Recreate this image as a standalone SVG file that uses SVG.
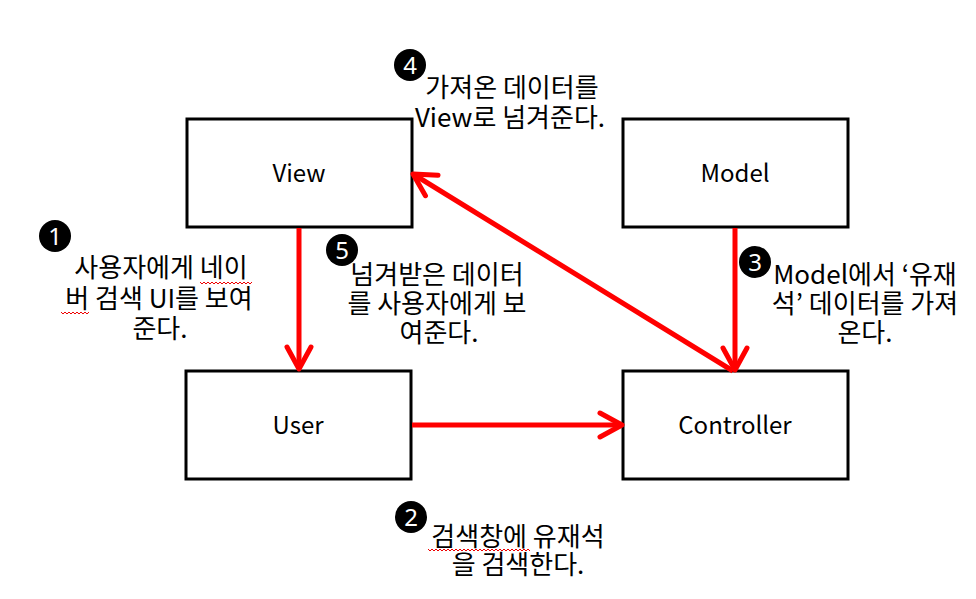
<svg xmlns="http://www.w3.org/2000/svg" width="976" height="599" viewBox="0 0 976 599">
<style>
.box{fill:#fff;stroke:#000;stroke-width:3}
.lbl{font-family:"Noto Sans CJK KR","Noto Sans",sans-serif;font-size:24px;fill:#000;text-anchor:middle}
.note{font-family:"Noto Sans CJK KR","Noto Sans",sans-serif;font-size:26px;fill:#000;text-anchor:middle}
.num{fill:#000}
.numt{font-family:"Noto Sans","DejaVu Sans",sans-serif;font-size:24px;fill:#fff;text-anchor:middle}
.conn{stroke:#f00;stroke-width:5;fill:none;marker-end:url(#ah)}
.sq{fill:none;stroke:#e00;stroke-width:1}
</style>
<defs>
<marker id="ah" markerUnits="userSpaceOnUse" markerWidth="40" markerHeight="40" viewBox="-30 -20 40 40" refX="0" refY="0" orient="auto" overflow="visible">
<path d="M-22,-12 L0,0 L-22,12" fill="none" stroke="#f00" stroke-width="5" stroke-linecap="round" stroke-linejoin="round"/>
</marker>
</defs>
<rect width="976" height="599" fill="#fff"/>
<g id="view"><rect class="box" x="187" y="119" width="225" height="108"/><text class="lbl" x="299" y="182">View</text></g>
<g id="model"><rect class="box" x="623" y="119" width="225" height="108"/><text class="lbl" x="735" y="182">Model</text></g>
<g id="user"><rect class="box" x="186" y="371" width="225" height="108"/><text class="lbl" x="298" y="434">User</text></g>
<g id="controller"><rect class="box" x="623" y="371" width="225" height="108"/><text class="lbl" x="735" y="434">Controller</text></g>
<g id="connectors">
<line class="conn" x1="299" y1="228" x2="299" y2="369"/>
<line class="conn" x1="412" y1="425" x2="622" y2="425"/>
<line class="conn" x1="735" y1="228" x2="735" y2="370"/>
<line class="conn" x1="733" y1="371" x2="413" y2="174"/>
</g>
<g id="note1">
<circle class="num" cx="55" cy="236" r="16"/><text class="numt" x="55" y="245">1</text>
<text class="note"><tspan x="161" y="277">사용자에게 네이</tspan><tspan x="159" y="308">버 검색 UI를 보여</tspan><tspan x="160" y="338">준다.</tspan></text>
<path class="sq" d="M200,282 l2,2 l2,-2 l2,2 l2,-2 l2,2 l2,-2 l2,2 l2,-2 l2,2 l2,-2 l2,2 l2,-2 l2,2 l2,-2 l2,2 l2,-2 l2,2 l2,-2 l2,2 l2,-2 l2,2 l2,-2 l2,2 l2,-2 l2,2 l2,-2"/>
<path class="sq" d="M61,312 l2,2 l2,-2 l2,2 l2,-2 l2,2 l2,-2 l2,2 l2,-2 l2,2 l2,-2 l2,2 l2,-2 l2,2 l2,-2"/>
</g>
<g id="note2">
<circle class="num" cx="411" cy="517" r="16"/><text class="numt" x="411" y="526">2</text>
<text class="note"><tspan x="518" y="546">검색창에 유재석</tspan><tspan x="518" y="574">을 검색한다.</tspan></text>
<path class="sq" d="M428,549 l2,2 l2,-2 l2,2 l2,-2 l2,2 l2,-2 l2,2 l2,-2 l2,2 l2,-2 l2,2 l2,-2 l2,2 l2,-2 l2,2 l2,-2 l2,2 l2,-2 l2,2 l2,-2 l2,2 l2,-2 l2,2 l2,-2 l2,2 l2,-2 l2,2 l2,-2 l2,2 l2,-2 l2,2 l2,-2 l2,2 l2,-2 l2,2 l2,-2 l2,2 l2,-2 l2,2 l2,-2 l2,2 l2,-2 l2,2 l2,-2 l2,2 l2,-2 l2,2 l2,-2 l2,2 l2,-2 l2,2"/>
</g>
<g id="note3">
<circle class="num" cx="755" cy="262" r="16"/><text class="numt" x="755" y="271">3</text>
<text class="note"><tspan x="865" y="284">Model에서 ‘유재</tspan><tspan x="865" y="313">석’ 데이터를 가져</tspan><tspan x="865" y="342">온다.</tspan></text>
</g>
<g id="note4">
<circle class="num" cx="410" cy="65" r="16"/><text class="numt" x="410" y="74">4</text>
<text class="note"><tspan x="512" y="97">가져온 데이터를</tspan><tspan x="510" y="127">View로 넘겨준다.</tspan></text>
</g>
<g id="note5">
<circle class="num" cx="342" cy="250" r="16"/><text class="numt" x="342" y="259">5</text>
<text class="note"><tspan x="437" y="284">넘겨받은 데이터</tspan><tspan x="437" y="313">를 사용자에게 보</tspan><tspan x="439" y="342">여준다.</tspan></text>
</g>
</svg>
